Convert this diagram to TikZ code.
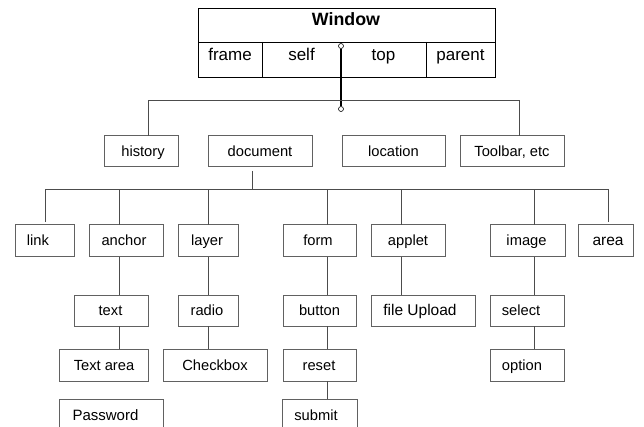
\documentclass[tikz,border=0pt]{standalone}
\usepackage{fontspec}
\setmainfont{Liberation Sans}
\begin{document}
\begin{tikzpicture}[x=1pt,y=-1pt,
  box/.style={draw=black!62, line width=1pt, inner sep=0pt, outer sep=0pt, rectangle},
  lbl/.style={inner sep=0pt, font=\fontsize{14.7}{17}\selectfont},
  wire/.style={draw=black!70, line width=0.9pt},
  hub/.style={circle, draw=black, fill=white, line width=0.6pt, inner sep=0pt, minimum size=5pt},
  cell/.style={inner sep=0pt, font=\fontsize{17}{20}\selectfont}]
% box macro: name, x1, y1, x2, y2, text, horizontal text offset
\newcommand\bx[7]{%
  \node[box, minimum width={(#4)-(#2)}, minimum height={(#5)-(#3)}] (#1) at ({((#2)+(#4))/2},{((#3)+(#5))/2}) {};
  \node[lbl, anchor=base] (#1-t) at ({((#2)+(#4))/2+(#7)},{((#3)+(#5))/2+5}) {#6};}

\clip (0,0) rectangle (644,427);
\fill[white] (0,0) rectangle (644,427);

% Window object with its four properties
\node[box, draw=black, line width=0.8pt, minimum width=297, minimum height=69] (win) at (346.5,42.5) {};
\coordinate (wrow) at (198,42);
\draw[draw=black, line width=0.8pt] (wrow) -- (wrow -| win.east);
\draw[draw=black, line width=0.8pt] (262,42) -- (262,77);
\draw[draw=black, line width=0.8pt] (426,42) -- (426,77);
\node[cell, anchor=base, font=\fontsize{17.8}{20}\selectfont\bfseries] (wtitle) at (346,26) {Window};
\node[cell, anchor=base] (wframe) at (230,61) {frame};
\node[cell, anchor=base] (wself) at (301.5,61) {self};
\node[cell, anchor=base] (wtop) at (383.5,61) {top};
\node[cell, anchor=base] (wparent) at (460.5,61) {parent};

% second level
\bx{history}{104}{136}{178}{167}{history}{2}
\bx{document}{208}{136}{312}{167}{document}{0}
\bx{location}{342}{136}{445}{167}{location}{0}
\bx{toolbar}{460}{136}{564}{167}{Toolbar, etc}{0}

% document children
\bx{link}{15}{225}{74}{257}{link}{-6.5}
\bx{anchor}{89}{225}{163}{257}{anchor}{-2}
\bx{layer}{178}{225}{238}{257}{layer}{-1}
\bx{form}{283}{225}{356}{257}{form}{-1.5}
\bx{applet}{371}{225}{445}{257}{applet}{0}
\bx{image}{490}{225}{565}{257}{image}{-1}
\bx{area}{578}{225}{633}{257}{\fontsize{15.5}{18}\selectfont area}{2.5}

\bx{text}{74}{295}{148}{326}{text}{-0.5}
\bx{radio}{178}{295}{238}{326}{radio}{-1}
\bx{button}{283}{295}{356}{326}{button}{0}
\bx{upload}{371}{295}{475}{326}{\fontsize{15.5}{18}\selectfont file Upload}{-3}
\bx{select}{490}{295}{564}{326}{select}{-6}

\bx{textarea}{59}{349}{148}{381}{Text area}{0.5}
\bx{checkbox}{163}{349}{267}{381}{Checkbox}{0}
\bx{reset}{283}{349}{356}{381}{reset}{-0.5}
\bx{option}{490}{349}{564}{381}{option}{-5}

\bx{password}{59}{399}{163}{431}{\fontsize{15}{18}\selectfont Password}{-5.5}
\bx{submit}{282}{399}{357}{431}{submit}{-3.5}

% Window to its properties
\node[hub] (hubtop) at (341,46) {};
\node[hub] (hubbot) at (341,109) {};
\draw[draw=black, line width=1.3pt] (hubtop) -- (hubbot);
\coordinate (b1L) at (148,100);
\coordinate (b1R) at (519,100);
\draw[wire] (history.north -| b1L) -- (b1L) -- (b1R) -- (toolbar.north -| b1R);

% document to its children
\coordinate (d1) at (252,171);
\coordinate (d2) at (252,189);
\draw[wire] (d1) -- (d2);
\coordinate (b2L) at (45,189);
\coordinate (b2R) at (608,189);
\draw[wire] (45,222) -- (b2L) -- (b2R) -- (608,222);
\draw[wire] (anchor.north -| 119,0) -- (119,189);
\draw[wire] (layer.north) -- (layer.north |- b2L);
\draw[wire] (form.north -| 327,0) -- (327,189);
\draw[wire] (applet.north -| 401,0) -- (401,189);
\draw[wire] (image.north -| 534,0) -- (534,189);

% chains below the children
\draw[wire] (anchor.south -| 119,0) -- (text.north -| 119,0);
\draw[wire] (text.south -| 119,0) -- (textarea.north -| 119,0);
\draw[wire] (layer.south) -- (radio.north);
\draw[wire] (radio.south) -- (checkbox.north -| radio.south);
\draw[wire] (form.south -| 327,0) -- (button.north -| 327,0);
\draw[wire] (button.south -| 327,0) -- (reset.north -| 327,0);
\draw[wire] (reset.south -| 327,0) -- (submit.north -| 327,0);
\draw[wire] (applet.south -| 401,0) -- (upload.north -| 401,0);
\draw[wire] (image.south -| 534,0) -- (select.north -| 534,0);
\draw[wire] (select.south -| 534,0) -- (option.north -| 534,0);
\end{tikzpicture}
\end{document}
